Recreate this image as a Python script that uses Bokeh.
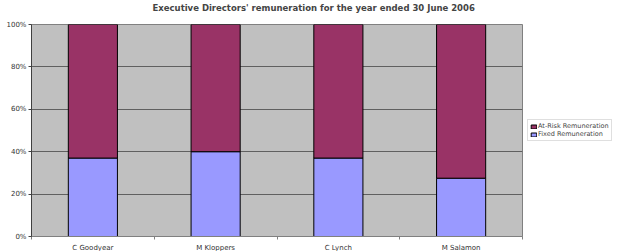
import numpy as np
from bokeh.plotting import figure
from bokeh.models import (Range1d, FixedTicker, NumeralTickFormatter, Legend, LegendItem,
                          ColumnDataSource, Title)
from bokeh.embed import file_html
from bokeh.resources import INLINE

categories = ["C Goodyear", "M Kloppers", "C Lynch", "M Salamon"]
fixed = [0.37, 0.40, 0.37, 0.275]
at_risk = [1 - f for f in fixed]
series_names = ["At-Risk Remuneration", "Fixed Remuneration"]
y_ticks = [0, 0.2, 0.4, 0.6, 0.8, 1.0]

x = np.arange(len(categories)) + 0.5
src = ColumnDataSource(dict(x=x, fixed=fixed, top=np.array(fixed) + np.array(at_risk)))

p = figure(frame_width=491, frame_height=212, output_backend="svg", toolbar_location=None,
           x_range=Range1d(0, len(categories)), y_range=Range1d(0, 1),
           min_border_left=31, min_border_right=104, min_border_top=0, min_border_bottom=0)
p.title.text = "Executive Directors' remuneration for the year ended 30 June 2006"
p.title.align = "left"
p.title.text_font = "DejaVu Sans"
p.title.text_font_size = "8.5px"
p.title.text_font_style = "bold"
p.title.offset = 121
p.title.standoff = 0
p.title.text_line_height = 1.0

spacer = Title(text=" ", text_font_size="1px", standoff=9, offset=0)
p.add_layout(spacer, "above")

p.background_fill_color = "#C0C0C0"
p.border_fill_color = "white"
p.outline_line_color = "#808080"

r_fixed = p.vbar(x="x", width=0.4, bottom=0, top="fixed", source=src,
                 fill_color="#9999FF", line_color="black", line_width=1)
r_risk = p.vbar(x="x", width=0.4, bottom="fixed", top="top", source=src,
                fill_color="#993366", line_color="black", line_width=1)

# axes
xa = p.xaxis[0]
xa.ticker = FixedTicker(ticks=list(x), minor_ticks=list(range(len(categories) + 1)))
xa.major_label_overrides = {float(v): c for v, c in zip(x, categories)}
xa.major_tick_out = 0
xa.major_tick_in = 0
xa.minor_tick_out = 3
xa.minor_tick_in = 0
xa.minor_tick_line_color = "#808080"
xa.axis_line_color = "#808080"
xa.major_label_text_font = "DejaVu Sans"
xa.major_label_text_font_size = "7px"
xa.major_label_text_color = "#333333"
xa.major_label_standoff = 4

ya = p.yaxis[0]
ya.ticker = FixedTicker(ticks=y_ticks, minor_ticks=[])
ya.formatter = NumeralTickFormatter(format="0%")
ya.major_tick_out = 3
ya.major_tick_in = 0
ya.major_tick_line_color = "#404040"
ya.axis_line_color = "#404040"
ya.major_label_text_font = "DejaVu Sans"
ya.major_label_text_font_size = "7px"
ya.major_label_text_color = "#333333"
ya.major_label_standoff = 2

p.xgrid.visible = False
p.ygrid.ticker = FixedTicker(ticks=y_ticks)
p.ygrid.grid_line_color = "#606060"
p.ygrid.grid_line_width = 1

legend = Legend(items=[LegendItem(label=series_names[0], renderers=[r_risk]),
                       LegendItem(label=series_names[1], renderers=[r_fixed])],
                location="left")
legend.label_text_font = "DejaVu Sans"
legend.label_text_font_size = "6.5px"
legend.label_height = 7
legend.glyph_height = 5
legend.glyph_width = 7
legend.spacing = 0
legend.padding = 2
legend.margin = 5
legend.label_standoff = 1
legend.border_line_color = "#C0C0C0"
legend.background_fill_alpha = 1
p.add_layout(legend, "right")

open("out.html", "w").write(file_html(p, INLINE))
